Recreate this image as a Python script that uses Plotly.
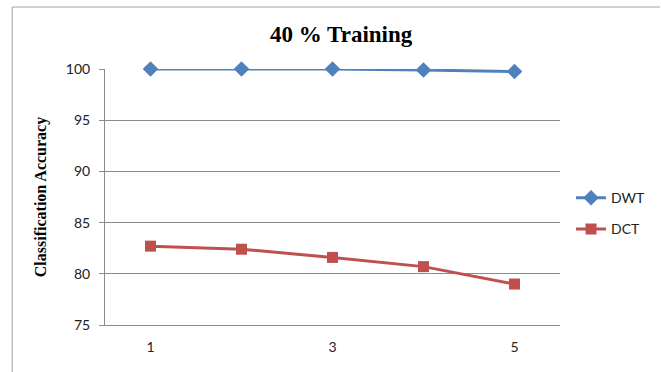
import plotly.graph_objects as go

# Classification accuracy per run, 40 % training split
runs = [1, 2, 3, 4, 5]
dwt_acc = [100.0, 100.0, 100.0, 99.9, 99.75]
dct_acc = [82.7, 82.4, 81.6, 80.7, 79.0]
x_tick_labels = ["1", "3", "5"]
x_tick_vals = [1, 3, 5]
y_tick_vals = [75, 80, 85, 90, 95, 100]

W, H = 661, 372
left, right, top, bottom = 105, 100, 69, 47

fig = go.Figure()
fig.add_trace(go.Scatter(
    x=runs, y=dwt_acc, name="DWT", mode="lines+markers",
    line=dict(color="#4F81BD", width=3),
    marker=dict(symbol="diamond", size=12, color="#4F81BD"),
    cliponaxis=False, legendgroup="a",
))
fig.add_trace(go.Scatter(
    x=runs, y=dct_acc, name="DCT", mode="lines+markers",
    line=dict(color="#C0504D", width=3),
    marker=dict(symbol="square", size=11, color="#C0504D"),
    cliponaxis=False, legendgroup="b",
))

fig.update_layout(
    width=W, height=H,
    margin=dict(l=left, r=right, t=top, b=bottom),
    paper_bgcolor="white", plot_bgcolor="white",
    title=dict(
        text="<b>40 % Training</b>",
        font=dict(family="Liberation Serif", size=23, color="black"),
        x=(343 / W), xanchor="center", xref="paper",
        y=1 - 34 / H, yanchor="middle",
    ),
    showlegend=True,
    legend=dict(
        x=1.022, xanchor="left", y=0.435, yanchor="middle",
        font=dict(family="Lato", size=14, color="#222"),
        tracegroupgap=10, bgcolor="rgba(0,0,0,0)",
    ),
    xaxis=dict(
        range=[0.5, 5.5], tickvals=x_tick_vals, ticktext=x_tick_labels,
        showgrid=False, zeroline=False, showline=True, linecolor="#8c8c8c",
        linewidth=1, ticks="", tickfont=dict(family="Lato", size=14, color="#222"),
        ticklabelstandoff=9,
    ),
    yaxis=dict(
        range=[75, 100], tickvals=y_tick_vals,
        showgrid=True, gridcolor="#8c8c8c", gridwidth=1,
        zeroline=False, showline=True, linecolor="#8c8c8c", linewidth=1,
        ticks="outside", ticklen=5, tickcolor="#8c8c8c",
        tickfont=dict(family="Lato", size=14, color="#222"),
        ticklabelstandoff=6,
        title=dict(
            text="<b>Classification Accuracy</b>",
            font=dict(family="Liberation Serif", size=16, color="black"),
            standoff=15,
        ),
    ),
)

# Chart frame (outer border)
fig.add_shape(type="line", xref="paper", yref="paper",
              x0=-93 / 456, x1=556 / 456, y0=1 + 62 / 256, y1=1 + 62 / 256,
              line=dict(color="#a0a0a0", width=1))
fig.add_shape(type="line", xref="paper", yref="paper",
              x0=-93 / 456, x1=-93 / 456, y0=1 + 62 / 256, y1=-47 / 256,
              line=dict(color="#a0a0a0", width=1))

fig.write_html("out.html")
